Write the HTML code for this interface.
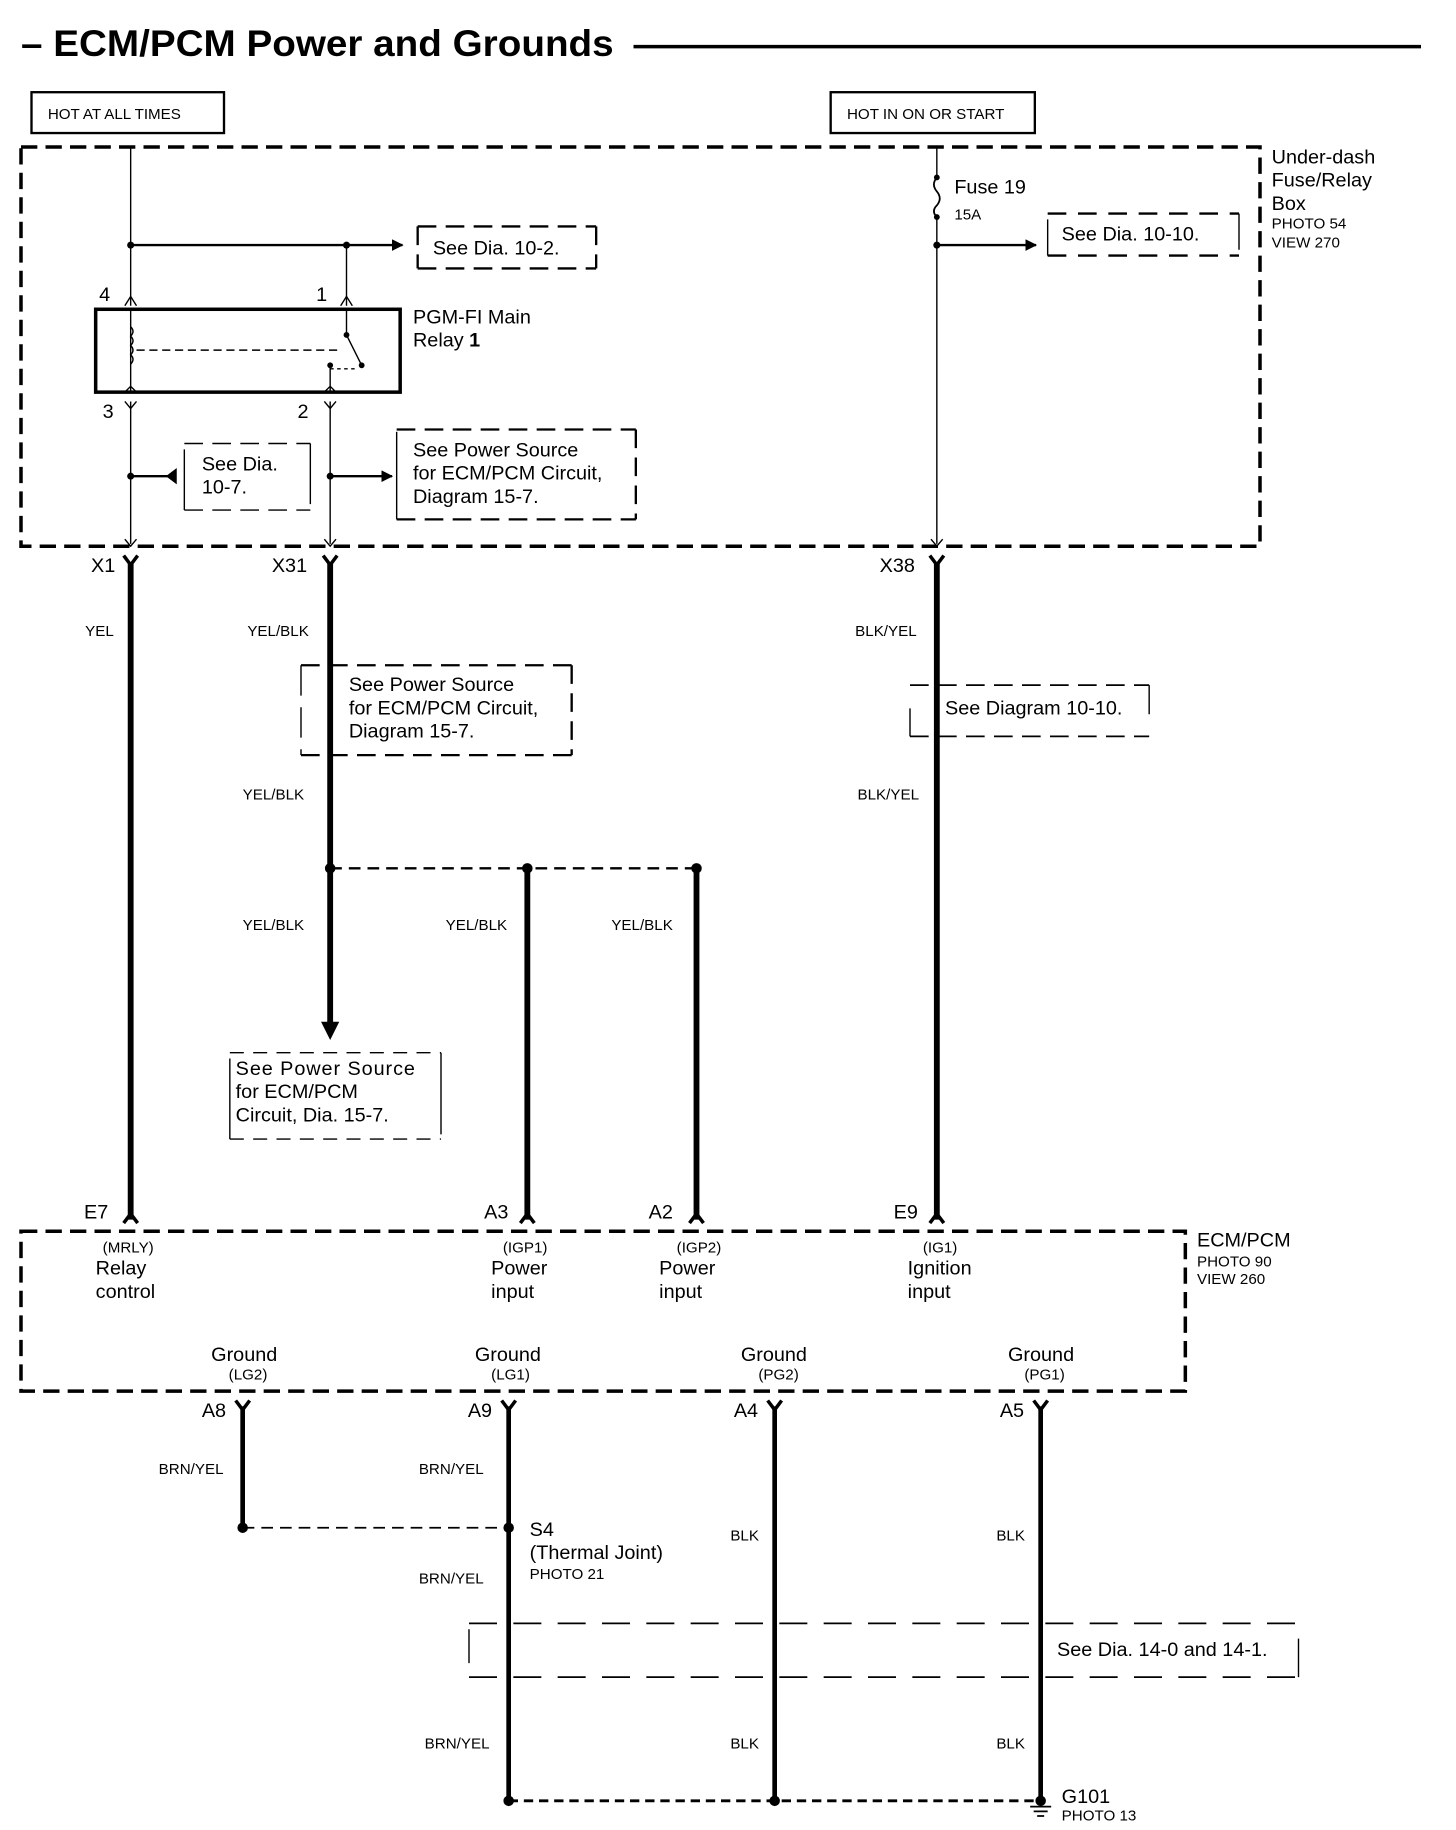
<!DOCTYPE html>
<html><head><meta charset="utf-8"><style>
html,body{margin:0;padding:0;background:#fff}
svg{display:block}
text{font-family:"Liberation Sans",sans-serif;fill:#000}
.m{font-size:17px}.s{font-size:13px}.w{font-size:13px}
</style></head><body>
<svg width="1456" height="1830" viewBox="0 0 1248 1568" preserveAspectRatio="none" xmlns="http://www.w3.org/2000/svg">
<defs>
<marker id="ar" markerWidth="10" markerHeight="10" refX="9" refY="5" orient="auto" markerUnits="userSpaceOnUse"><path d="M0,0 L10,5 L0,10 Z"/></marker>
</defs>
<g stroke="#000" fill="none">
<line x1="543" y1="40" x2="1218" y2="40" stroke-width="3"/>
<rect x="27" y="79" width="165" height="35" stroke-width="2"/>
<rect x="712" y="79" width="175" height="35" stroke-width="2"/>
<rect x="18" y="126" width="1062" height="342" stroke-width="3" stroke-dasharray="14 7"/>
<line x1="112" y1="126" x2="112" y2="262" stroke-width="1.2"/>
<line x1="112" y1="210" x2="345" y2="210" stroke-width="2" marker-end="url(#ar)"/>
<line x1="297" y1="210" x2="297" y2="262" stroke-width="1.2"/>
<path d="M107,262 L112,254 L117,262 M292,262 L297,254 L302,262" stroke-width="1.2"/>
<rect x="82" y="265" width="261" height="71" stroke-width="3"/>
<line x1="112" y1="266" x2="112" y2="336" stroke-width="1.2"/>
<path d="M112,280 q4,4 0,8 q4,4 0,8 q4,4 0,8 q4,4 0,8" stroke-width="1.2"/>
<line x1="117" y1="300" x2="290" y2="300" stroke-width="1.2" stroke-dasharray="7 4"/>
<path d="M297,266 L297,287 L310,313 M283,313 L283,336" stroke-width="1.2"/>
<path d="M283,316 L305,316" stroke-width="1.2" stroke-dasharray="3 3"/>
<path d="M107,344 L112,350 L117,344 M278,344 L283,350 L288,344" stroke-width="1.2"/>
<line x1="112" y1="344" x2="112" y2="466" stroke-width="1.2"/>
<line x1="283" y1="344" x2="283" y2="466" stroke-width="1.2"/>
<path d="M107,336 L112,331 L117,336 M278,336 L283,331 L288,336" stroke-width="1.2"/>
<line x1="112" y1="408" x2="145" y2="408" stroke-width="2"/>
<path d="M143,408 L151,402 L151,414 Z" fill="#000"/>
<line x1="283" y1="408" x2="336" y2="408" stroke-width="2" marker-end="url(#ar)"/>
<path d="M358,194 H511 M358,230 H511 M358,194 V230 M511,194 V230" stroke-width="2" stroke-dasharray="16 8"/>
<path d="M158,380 H266 M158,437 H266" stroke-width="1.2" stroke-dasharray="16 8"/>
<path d="M158,385 V437 M266,380 V432" stroke-width="1.2"/>
<path d="M340,368 H545 M340,445 H545 M545,368 V445" stroke-width="2" stroke-dasharray="16 8"/>
<line x1="340" y1="370" x2="340" y2="445" stroke-width="1.2"/>
<line x1="803" y1="126" x2="803" y2="152" stroke-width="1.2"/>
<path d="M803,152 q-5,6 0,12 q5,6 0,12 q-5,5 0,10" stroke-width="1.5"/>
<line x1="803" y1="186" x2="803" y2="466" stroke-width="1.2"/>
<line x1="803" y1="210" x2="888" y2="210" stroke-width="2" marker-end="url(#ar)"/>
<path d="M898,183 H1062 M898,219 H1062" stroke-width="2" stroke-dasharray="16 10"/>
<path d="M898,188 V219 M1062,183 V214" stroke-width="1.2"/>
<path d="M107,462 L112,468 L117,462 M278,462 L283,468 L288,462 M798,462 L803,468 L808,462" stroke-width="1.2"/>
<path d="M106,476 L112,484 L118,476 M277,476 L283,484 L289,476 M797,476 L803,484 L809,476" stroke-width="3"/>
<line x1="112" y1="482" x2="112" y2="1045" stroke-width="5"/>
<line x1="283" y1="482" x2="283" y2="876" stroke-width="5"/>
<path d="M276,876 L283,890 L290,876 Z" fill="#000"/>
<line x1="803" y1="482" x2="803" y2="1045" stroke-width="5"/>
<line x1="452" y1="744" x2="452" y2="1045" stroke-width="5"/>
<line x1="597" y1="744" x2="597" y2="1045" stroke-width="5"/>
<line x1="283" y1="744" x2="597" y2="744" stroke-width="2" stroke-dasharray="10 6"/>
<path d="M258,570 H490 M258,647 H490 M490,570 V647" stroke-width="2" stroke-dasharray="16 8"/>
<path d="M258,570 V647" stroke-width="1.2" stroke-dasharray="26 10"/>
<path d="M780,587 H985 M780,631 H985" stroke-width="1.5" stroke-dasharray="16 8"/>
<path d="M780,607 V631 M985,587 V612" stroke-width="1.2"/>
<path d="M197,902 H378 M197,976 H378" stroke-width="1.2" stroke-dasharray="12 8"/>
<path d="M197,907 V976 M378,902 V972" stroke-width="1.2"/>
<path d="M106,1048 L112,1040 L118,1048 M446,1048 L452,1040 L458,1048 M591,1048 L597,1040 L603,1048 M797,1048 L803,1040 L809,1048" stroke-width="3"/>
<rect x="18" y="1055" width="998" height="137" stroke-width="3" stroke-dasharray="14 7"/>
<path d="M202,1200 L208,1208 L214,1200 M430,1200 L436,1208 L442,1200 M658,1200 L664,1208 L670,1200 M886,1200 L892,1208 L898,1200" stroke-width="3"/>
<line x1="208" y1="1205" x2="208" y2="1309" stroke-width="4"/>
<line x1="436" y1="1205" x2="436" y2="1543" stroke-width="4"/>
<line x1="664" y1="1205" x2="664" y2="1543" stroke-width="4"/>
<line x1="892" y1="1205" x2="892" y2="1543" stroke-width="4"/>
<line x1="208" y1="1309" x2="436" y2="1309" stroke-width="1.5" stroke-dasharray="10 6"/>
<line x1="436" y1="1543" x2="892" y2="1543" stroke-width="2.5" stroke-dasharray="8 5"/>
<path d="M402,1391 H1113 M402,1437 H1113" stroke-width="1.5" stroke-dasharray="24 14"/>
<path d="M402,1396 V1425 M1113,1404 V1437" stroke-width="1.2"/>
<path d="M883,1548 H901 M886,1552 H898 M889,1556 H895" stroke-width="1.5"/>
</g>
<g fill="#000">
<circle cx="112" cy="210" r="3"/><circle cx="297" cy="210" r="3"/>
<circle cx="297" cy="287" r="2.5"/><circle cx="310" cy="313" r="2.5"/><circle cx="283" cy="313" r="2.5"/>
<circle cx="112" cy="408" r="3"/><circle cx="283" cy="408" r="3"/>
<circle cx="803" cy="152" r="2.5"/><circle cx="803" cy="186" r="2.5"/><circle cx="803" cy="210" r="3"/>
<circle cx="283" cy="744" r="4.5"/><circle cx="452" cy="744" r="4.5"/><circle cx="597" cy="744" r="4.5"/>
<circle cx="208" cy="1309" r="4.5"/><circle cx="436" cy="1309" r="4.5"/>
<circle cx="436" cy="1543" r="4.5"/><circle cx="664" cy="1543" r="4.5"/><circle cx="892" cy="1543" r="4.5"/>
</g>
<text x="18" y="48" style="font-size:32px;font-weight:bold" textLength="508" lengthAdjust="spacingAndGlyphs">– ECM/PCM Power and Grounds</text>
<text x="41" y="102" class="s">HOT AT ALL TIMES</text>
<text x="726" y="102" class="s">HOT IN ON OR START</text>
<text x="1090" y="140" class="m">Under-dash</text>
<text x="1090" y="160" class="m">Fuse/Relay</text>
<text x="1090" y="180" class="m">Box</text>
<text x="1090" y="196" class="s">PHOTO 54</text>
<text x="1090" y="212" class="s">VIEW 270</text>
<text x="371" y="218" class="m">See Dia. 10-2.</text>
<text x="85" y="258" class="m">4</text><text x="271" y="258" class="m">1</text>
<text x="88" y="358" class="m">3</text><text x="255" y="358" class="m">2</text>
<text x="354" y="277" class="m">PGM-FI Main</text>
<text x="354" y="297" class="m">Relay <tspan font-weight="bold">1</tspan></text>
<text x="173" y="403" class="m">See Dia.</text>
<text x="173" y="423" class="m">10-7.</text>
<text x="354" y="391" class="m">See Power Source</text>
<text x="354" y="411" class="m">for ECM/PCM Circuit,</text>
<text x="354" y="431" class="m">Diagram 15-7.</text>
<text x="818" y="166" class="m">Fuse 19</text>
<text x="818" y="188" class="s">15A</text>
<text x="910" y="206" class="m">See Dia. 10-10.</text>
<text x="78" y="490" class="m">X1</text><text x="233" y="490" class="m">X31</text><text x="754" y="490" class="m">X38</text>
<text x="73" y="545" class="w">YEL</text>
<text x="212" y="545" class="w">YEL/BLK</text>
<text x="733" y="545" class="w">BLK/YEL</text>
<text x="299" y="592" class="m">See Power Source</text>
<text x="299" y="612" class="m">for ECM/PCM Circuit,</text>
<text x="299" y="632" class="m">Diagram 15-7.</text>
<text x="810" y="612" class="m">See Diagram 10-10.</text>
<text x="208" y="685" class="w">YEL/BLK</text>
<text x="735" y="685" class="w">BLK/YEL</text>
<text x="208" y="797" class="w">YEL/BLK</text>
<text x="382" y="797" class="w">YEL/BLK</text>
<text x="524" y="797" class="w">YEL/BLK</text>
<text x="202" y="921" class="m" letter-spacing="0.8">See Power Source</text>
<text x="202" y="941" class="m">for ECM/PCM</text>
<text x="202" y="961" class="m">Circuit, Dia. 15-7.</text>
<text x="72" y="1044" class="m">E7</text><text x="415" y="1044" class="m">A3</text><text x="556" y="1044" class="m">A2</text><text x="766" y="1044" class="m">E9</text>
<text x="88" y="1073" class="s">(MRLY)</text>
<text x="82" y="1092" class="m">Relay</text><text x="82" y="1112" class="m">control</text>
<text x="431" y="1073" class="s">(IGP1)</text>
<text x="421" y="1092" class="m">Power</text><text x="421" y="1112" class="m">input</text>
<text x="580" y="1073" class="s">(IGP2)</text>
<text x="565" y="1092" class="m">Power</text><text x="565" y="1112" class="m">input</text>
<text x="791" y="1073" class="s">(IG1)</text>
<text x="778" y="1092" class="m">Ignition</text><text x="778" y="1112" class="m">input</text>
<text x="1026" y="1068" class="m">ECM/PCM</text>
<text x="1026" y="1085" class="s">PHOTO 90</text>
<text x="1026" y="1100" class="s">VIEW 260</text>
<text x="181" y="1166" class="m">Ground</text><text x="196" y="1182" class="s">(LG2)</text>
<text x="407" y="1166" class="m">Ground</text><text x="421" y="1182" class="s">(LG1)</text>
<text x="635" y="1166" class="m">Ground</text><text x="650" y="1182" class="s">(PG2)</text>
<text x="864" y="1166" class="m">Ground</text><text x="878" y="1182" class="s">(PG1)</text>
<text x="173" y="1214" class="m">A8</text><text x="401" y="1214" class="m">A9</text><text x="629" y="1214" class="m">A4</text><text x="857" y="1214" class="m">A5</text>
<text x="136" y="1263" class="w">BRN/YEL</text>
<text x="359" y="1263" class="w">BRN/YEL</text>
<text x="454" y="1316" class="m">S4</text>
<text x="454" y="1336" class="m">(Thermal Joint)</text>
<text x="454" y="1353" class="s">PHOTO 21</text>
<text x="359" y="1357" class="w">BRN/YEL</text>
<text x="626" y="1320" class="w">BLK</text>
<text x="854" y="1320" class="w">BLK</text>
<text x="906" y="1419" class="m">See Dia. 14-0 and 14-1.</text>
<text x="364" y="1498" class="w">BRN/YEL</text>
<text x="626" y="1498" class="w">BLK</text>
<text x="854" y="1498" class="w">BLK</text>
<text x="910" y="1545" class="m">G101</text>
<text x="910" y="1560" class="s">PHOTO 13</text>
</svg>
</body></html>
